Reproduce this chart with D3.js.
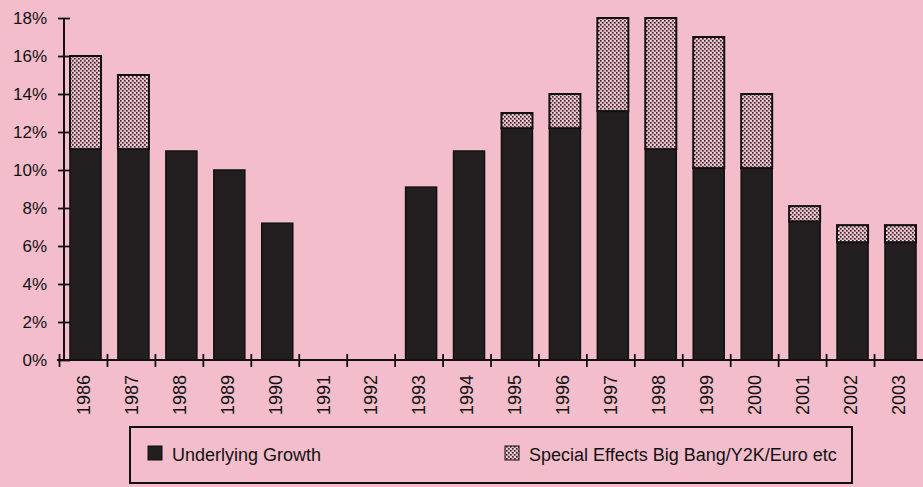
<!DOCTYPE html>
<html>
<head>
<meta charset="utf-8">
<title>Growth chart</title>
<style>
body { margin: 0; background: #f3bdcb; }
svg { display: block; font-family: "Liberation Sans", Arial, Helvetica, sans-serif; }
</style>
</head>
<body>
<script src="https://cdnjs.cloudflare.com/ajax/libs/d3/7.8.5/d3.min.js"></script>
<script>
// dane
var lata = ["1986","1987","1988","1989","1990","1991","1992","1993","1994","1995",
            "1996","1997","1998","1999","2000","2001","2002","2003"];
var wzrost = [11.1, 11.1, 11, 10, 7.2, 0, 0, 9.1, 11, 12.2, 12.2, 13.1, 11.1, 10.1, 10.1, 7.3, 6.2, 6.2];
var efekty = [4.9, 3.9, 0, 0, 0, 0, 0, 0, 0, 0.8, 1.8, 4.9, 6.9, 6.9, 3.9, 0.8, 0.9, 0.9];
var yTicks = [0, 2, 4, 6, 8, 10, 12, 14, 16, 18];
var legenda = ["Underlying Growth", "Special Effects Big Bang/Y2K/Euro etc"];

var width = 923, height = 487;
var ciemny = "#231f21";

var svg = d3.select("body").append("svg")
  .attr("width", width)
  .attr("height", height);

// wzor w kratke dla efektow specjalnych
var defs = svg.append("defs");
var wzor = defs.append("pattern")
  .attr("id", "kratka")
  .attr("patternUnits", "userSpaceOnUse")
  .attr("width", 4).attr("height", 4);
wzor.append("rect").attr("width", 4).attr("height", 4).attr("fill", "#e8b4c2");
wzor.append("rect").attr("x", 0).attr("y", 0).attr("width", 1.6).attr("height", 1.6).attr("fill", "#2e2629");
wzor.append("rect").attr("x", 2).attr("y", 2).attr("width", 1.6).attr("height", 1.6).attr("fill", "#2e2629");
wzor.append("rect").attr("x", 2).attr("y", 0).attr("width", 1.4).attr("height", 1.4).attr("fill", "#f8dde4");

var dane = lata.map(function(r, i) {
  return {rok: r, a: wzrost[i], b: efekty[i]};
});

var x = d3.scaleBand()
  .domain(lata)
  .range([64, 922])
  .paddingInner(0.353)
  .paddingOuter(0.125);

var y = d3.scaleLinear()
  .domain([0, 18])
  .range([360, 18]);

var krok = x.step();

// slupki - wzrost
svg.selectAll("rect.wzrost")
  .data(dane.filter(function(d) { return d.a > 0; }))
  .enter()
  .append("rect")
  .attr("class", "wzrost")
  .attr("x", function(d) { return x(d.rok); })
  .attr("y", function(d) { return y(d.a); })
  .attr("width", x.bandwidth())
  .attr("height", function(d) { return y(0) - y(d.a); })
  .attr("fill", ciemny)
  .attr("stroke", "#111")
  .attr("stroke-width", 1.5);

// slupki - efekty specjalne
svg.selectAll("rect.efekty")
  .data(dane.filter(function(d) { return d.b > 0; }))
  .enter()
  .append("rect")
  .attr("class", "efekty")
  .attr("x", function(d) { return x(d.rok); })
  .attr("y", function(d) { return y(d.a + d.b); })
  .attr("width", x.bandwidth())
  .attr("height", function(d) { return y(d.a) - y(d.a + d.b); })
  .attr("fill", "url(#kratka)")
  .attr("stroke", "#111")
  .attr("stroke-width", 2);

// os Y
var osY = d3.axisLeft(y)
  .tickValues(yTicks)
  .tickSize(12)
  .tickPadding(11)
  .tickFormat(function(d) { return d + "%"; });
var gY = svg.append("g").attr("transform", "translate(70,0)").call(osY);
gY.select(".domain").remove();
gY.selectAll("line").attr("stroke", "#111").attr("stroke-width", 1.8);
gY.selectAll("text").attr("font-size", 17).attr("fill", "#111");

svg.append("line")
  .attr("x1", 64).attr("x2", 64)
  .attr("y1", y(18)).attr("y2", y(0))
  .attr("stroke", "#111").attr("stroke-width", 2);

// os X
svg.append("line")
  .attr("x1", 57).attr("x2", width)
  .attr("y1", y(0)).attr("y2", y(0))
  .attr("stroke", "#111").attr("stroke-width", 2);

svg.selectAll("line.tickx")
  .data(lata)
  .enter()
  .append("line")
  .attr("class", "tickx")
  .attr("x1", function(d) { return x(d) - krok * x.paddingInner() / 2 - 2; })
  .attr("x2", function(d) { return x(d) - krok * x.paddingInner() / 2 - 2; })
  .attr("y1", y(0) - 6).attr("y2", y(0) + 7)
  .attr("stroke", "#111").attr("stroke-width", 1.8);

svg.selectAll("text.rok")
  .data(lata)
  .enter()
  .append("text")
  .attr("class", "rok")
  .attr("transform", function(d) {
    return "translate(" + (x(d) + x.bandwidth() / 2 - 2) + ",375) rotate(-90)";
  })
  .attr("text-anchor", "end")
  .attr("dy", "0.35em")
  .attr("font-size", 18)
  .attr("fill", "#111")
  .text(function(d) { return d; });

// legenda
svg.append("rect")
  .attr("x", 130).attr("y", 427)
  .attr("width", 722).attr("height", 56)
  .attr("fill", "none")
  .attr("stroke", "#111")
  .attr("stroke-width", 2);

var legX = [148, 505];
var legFill = [ciemny, "url(#kratka)"];
legenda.forEach(function(t, i) {
  svg.append("rect")
    .attr("x", legX[i]).attr("y", 446)
    .attr("width", 14).attr("height", 14)
    .attr("fill", legFill[i])
    .attr("stroke", "#111").attr("stroke-width", 1);
  svg.append("text")
    .attr("x", legX[i] + 24).attr("y", 461)
    .attr("font-size", 18)
    .attr("fill", "#111")
    .text(t);
});
</script>
</body>
</html>
